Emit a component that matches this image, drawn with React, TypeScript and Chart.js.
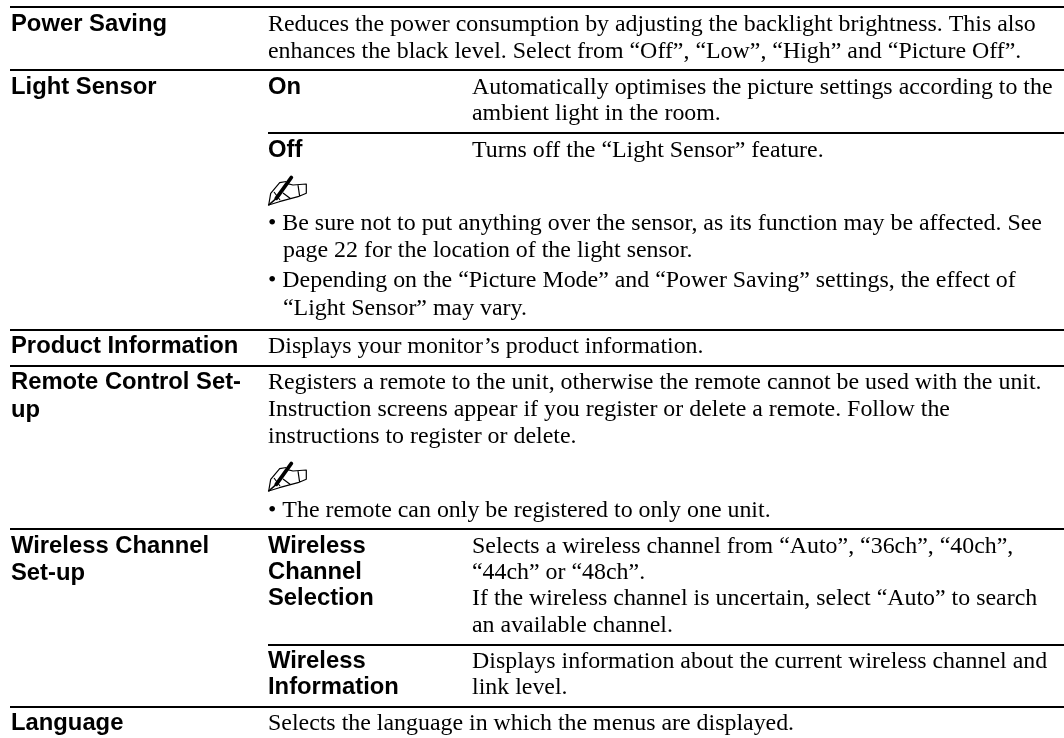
import React, { useEffect, useRef } from "react";
import { Chart, registerables } from "chart.js";

Chart.register(...registerables);

const headingTexts = ["Power Saving", "Light Sensor", "Product Information", "Remote Control Set-", "up", "Wireless Channel", "Set-up", "Language"];
const headingBaselines = [31, 94, 353, 389, 417, 553, 580, 730];

const optionTexts = ["On", "Off", "Wireless", "Channel", "Selection", "Wireless", "Information"];
const optionBaselines = [94, 157, 553, 579, 605, 668, 694];

const wideTexts = [
  "Reduces the power consumption by adjusting the backlight brightness. This also",
  "enhances the black level. Select from “Off”, “Low”, “High” and “Picture Off”.",
  "• Be sure not to put anything over the sensor, as its function may be affected. See",
  "• Depending on the “Picture Mode” and “Power Saving” settings, the effect of",
  "Displays your monitor’s product information.",
  "Registers a remote to the unit, otherwise the remote cannot be used with the unit.",
  "Instruction screens appear if you register or delete a remote. Follow the",
  "instructions to register or delete.",
  "• The remote can only be registered to only one unit.",
  "Selects the language in which the menus are displayed.",
];
const wideBaselines = [31, 58, 230, 287, 353, 389, 416, 443, 517, 730];

const indentedTexts = ["page 22 for the location of the light sensor.", "“Light Sensor” may vary."];
const indentedBaselines = [257, 315];

const detailTexts = [
  "Automatically optimises the picture settings according to the",
  "ambient light in the room.",
  "Turns off the “Light Sensor” feature.",
  "Selects a wireless channel from “Auto”, “36ch”, “40ch”,",
  "“44ch” or “48ch”.",
  "If the wireless channel is uncertain, select “Auto” to search",
  "an available channel.",
  "Displays information about the current wireless channel and",
  "link level.",
];
const detailBaselines = [94, 120, 157, 553, 579, 605, 632, 668, 694];

const fullRuleY = [7, 70, 330, 366, 529, 707];
const innerRuleY = [133, 645];
const penIconY = [176, 462];

const CHART_W = 1064;
const CHART_H = 738;
const COL_HEAD = 11;
const COL_OPTION = 268;
const COL_INDENT = 283;
const COL_DETAIL = 472;
const SANS = 'bold 23.8px "Liberation Sans"';
const SERIF = '23.9px "Liberation Serif"';

const tablePlugin = {
  id: "tableText",
  afterDatasetsDraw(chart: any) {
    const { ctx, scales } = chart;
    const px = (v: number) => scales.x.getPixelForValue(v);
    const py = (v: number) => scales.y.getPixelForValue(v);
    const put = (texts: string[], ys: number[], x: number, font: string) => {
      ctx.font = font;
      texts.forEach((t, i) => ctx.fillText(t, px(x), py(ys[i])));
    };
    ctx.save();
    ctx.fillStyle = "#000";
    ctx.textBaseline = "alphabetic";
    ctx.textAlign = "left";
    put(headingTexts, headingBaselines, COL_HEAD, SANS);
    put(optionTexts, optionBaselines, COL_OPTION, SANS);
    put(wideTexts, wideBaselines, COL_OPTION, SERIF);
    put(indentedTexts, indentedBaselines, COL_INDENT, SERIF);
    put(detailTexts, detailBaselines, COL_DETAIL, SERIF);
    penIconY.forEach((y) => {
      ctx.save();
      ctx.translate(px(COL_OPTION), py(y));
      ctx.strokeStyle = "#000";
      ctx.lineWidth = 1.2;
      ctx.lineJoin = "round";
      ctx.beginPath();
      ctx.moveTo(0.7, 29);
      ctx.lineTo(2.7, 17.3);
      ctx.lineTo(11.7, 6.7);
      ctx.lineTo(18.3, 5.5);
      ctx.moveTo(18.3, 7.3);
      ctx.lineTo(25, 9);
      ctx.lineTo(38.3, 8);
      ctx.lineTo(38.3, 17.3);
      ctx.lineTo(30, 20.7);
      ctx.lineTo(11.3, 25.7);
      ctx.lineTo(0.7, 29);
      ctx.moveTo(30, 9);
      ctx.lineTo(31.7, 20.7);
      ctx.moveTo(15, 17);
      ctx.lineTo(23, 23);
      ctx.moveTo(6, 16);
      ctx.lineTo(12, 24);
      ctx.stroke();
      ctx.lineWidth = 3.8;
      ctx.lineCap = "round";
      ctx.beginPath();
      ctx.moveTo(8.3, 22.3);
      ctx.lineTo(23.3, 1.5);
      ctx.stroke();
      ctx.lineWidth = 1.6;
      ctx.beginPath();
      ctx.moveTo(0.7, 29);
      ctx.lineTo(8.3, 22.3);
      ctx.stroke();
      ctx.restore();
    });
    ctx.restore();
  },
};

export default function App() {
  const ref = useRef<HTMLCanvasElement>(null);
  useEffect(() => {
    const rule = (y: number, x0: number) => ({
      data: [{ x: x0, y }, { x: CHART_W, y }],
      showLine: true,
      borderColor: "#000",
      borderWidth: 2,
      pointRadius: 0,
    });
    const chart = new Chart(ref.current!, {
      type: "scatter",
      data: {
        datasets: [
          ...fullRuleY.map((y) => rule(y, COL_HEAD - 1)),
          ...innerRuleY.map((y) => rule(y, COL_OPTION)),
        ],
      },
      options: {
        responsive: false,
        animation: false,
        layout: { padding: 0 },
        plugins: { legend: { display: false }, tooltip: { enabled: false } },
        scales: {
          x: { type: "linear", display: false, min: 0, max: CHART_W },
          y: { type: "linear", display: false, min: 0, max: CHART_H, reverse: true },
        },
      },
      plugins: [tablePlugin],
    } as any);
    return () => chart.destroy();
  }, []);
  return (
    <canvas
      ref={ref}
      width={CHART_W}
      height={CHART_H}
      style={{ position: "fixed", left: 0, top: 0, background: "#fff" }}
    />
  );
}
